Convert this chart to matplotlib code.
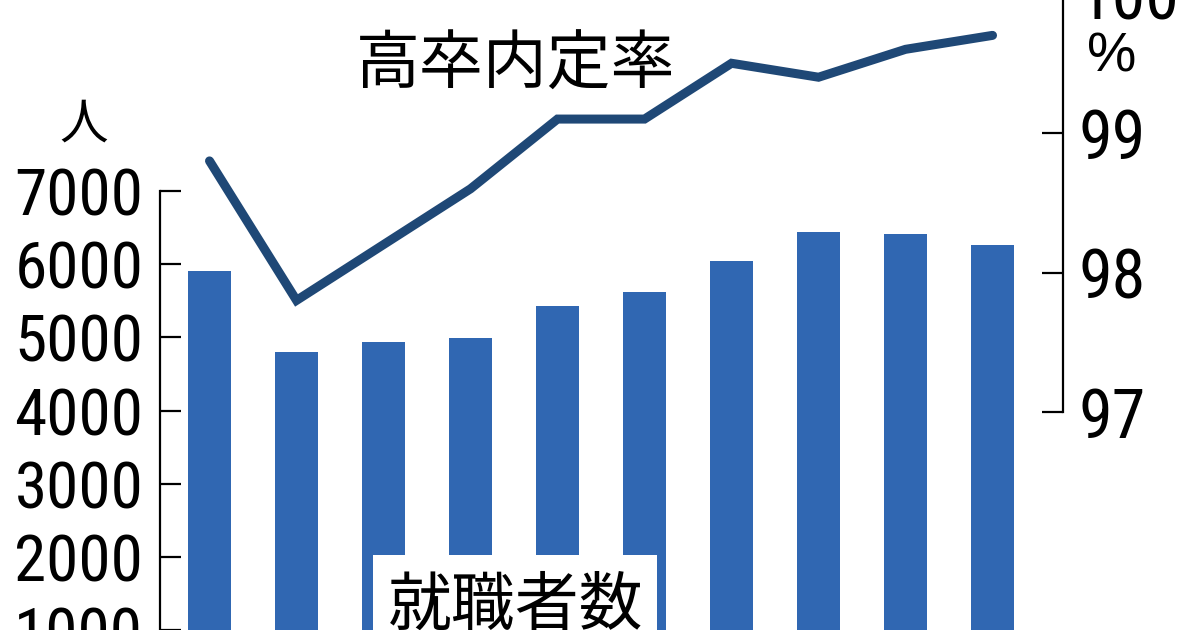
import matplotlib
matplotlib.use("Agg")
import matplotlib.pyplot as plt
from matplotlib import font_manager
from matplotlib.patches import Rectangle

# ---- data ----
years = ["1", "2", "3", "4", "5", "6", "7", "8", "9", "10"]
employed = [5910, 4800, 4930, 4990, 5420, 5620, 6045, 6430, 6410, 6260]
offer_rate = [98.8, 97.8, 98.2, 98.6, 99.1, 99.1, 99.5, 99.4, 99.6, 99.7]
left_ticks = [0, 1000, 2000, 3000, 4000, 5000, 6000, 7000]
right_ticks = [97, 98, 99, 100]

# ---- fonts: prefer a condensed sans for the numbers ----
fl = font_manager.fontManager.ttflist
names = {f.name for f in fl}
num_font, num_stretch, narrow = "Liberation Sans", "normal", False
for cand in ["Liberation Sans Narrow", "Roboto Condensed", "Open Sans Condensed",
             "Noto Sans Condensed", "DejaVu Sans Condensed", "Arial Narrow"]:
    if cand in names:
        num_font, narrow = cand, True
        break
if not narrow:
    for f in fl:
        if f.name in ("Noto Sans", "Roboto", "Open Sans", "Liberation Sans", "Inter") \
                and str(f.stretch) in ("condensed", "semi-condensed", "75", "87.5") \
                and f.style == "normal":
            num_font, num_stretch, narrow = f.name, f.stretch, True
            break
cjk = ["Noto Sans CJK JP", "DejaVu Sans"]

lsize = 47 if narrow else 40
rsize = 49 if narrow else 42

BAR_C = "#3067b2"
LINE_C = "#1f4876"

W, H = 1200, 630
fig = plt.figure(figsize=(12, 6.3), dpi=100)

px_left, px_right = 160, 1063
px_top, px_bot = -20, 703.8
ax = fig.add_axes([px_left / W, (H - px_bot) / H,
                   (px_right - px_left) / W, (px_bot - px_top) / H])
ax2 = ax.twinx()

x = list(range(len(years)))
ax.bar(x, employed, width=0.494, color=BAR_C, zorder=2)
ax.set_xlim(-0.569, 9.81)
ax.set_ylim(0, 9874)
ax2.set_ylim(94.908, 100.097)

ax2.plot(x, offer_rate, color=LINE_C, lw=6.5, solid_joinstyle="miter",
         solid_capstyle="round", zorder=3)

for a in (ax, ax2):
    for s in a.spines.values():
        s.set_visible(False)
    a.set_facecolor("none")

ax.spines["left"].set_visible(True)
ax.spines["left"].set_bounds(0, 7000)
ax.spines["left"].set_linewidth(1.6)
ax2.spines["right"].set_visible(True)
ax2.spines["right"].set_bounds(97, 100.1)
ax2.spines["right"].set_linewidth(1.6)

ax.set_yticks(left_ticks)
ax.set_yticklabels([str(v) for v in left_ticks])
ax.tick_params(axis="y", direction="in", length=15, width=1.6, pad=12,
               labelsize=lsize)
for t in ax.get_yticklabels():
    t.set_fontfamily(num_font)
    t.set_fontstretch(num_stretch)
ax.set_xticks(x)
ax.set_xticklabels(years)
ax.tick_params(axis="x", length=0, labelbottom=False)

ax2.set_yticks(right_ticks)
ax2.set_yticklabels([str(v) for v in right_ticks])
ax2.tick_params(axis="y", direction="in", length=15, width=1.6, pad=11,
                labelsize=rsize)
for t in ax2.get_yticklabels():
    t.set_fontfamily(num_font)
    t.set_fontstretch(num_stretch)

# unit labels
fig.text(84 / W, 1 - 125 / H, "人", family=cjk, fontsize=35,
         ha="center", va="center")
fig.text(1112 / W, 1 - 57 / H, "%", family="Liberation Sans",
         fontsize=40, ha="center", va="center")

# series labels
fig.text(516 / W, 1 - 66 / H, "高卒内定率", family=cjk, fontsize=46,
         ha="center", va="center")
fig.add_artist(Rectangle((373 / W, -0.05), 284 / W, (H - 555) / H + 0.05,
                         transform=fig.transFigure, facecolor="white",
                         edgecolor="none", zorder=5))
fig.text(516 / W, 1 - 606 / H, "就職者数", family=cjk, fontsize=46,
         ha="center", va="center", zorder=6)

fig.savefig("out.png", dpi=100, facecolor="white")
